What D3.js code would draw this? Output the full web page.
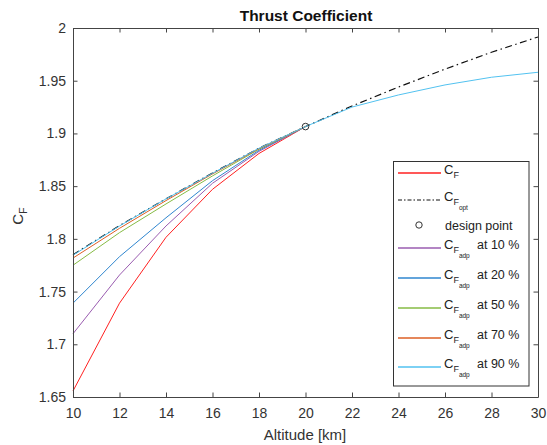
<!DOCTYPE html>
<html><head><meta charset="utf-8">
<script src="https://cdn.jsdelivr.net/npm/d3@7"></script>
<style>body{margin:0;background:#fff}svg{display:block}text{font-family:"Liberation Sans",Arial,sans-serif}</style>
</head><body><svg id="c" width="547" height="445"></svg>
<script>
const altitude = [10,12,14,16,18,20,22,24,26,28,30];
const cfFixed  = [1.6557,1.739,1.8015,1.847,1.881,1.9065];
const cfOpt    = [1.785,1.8125,1.838,1.8625,1.886,1.9065,1.926,1.944,1.961,1.977,1.9915];
const adp10    = [1.710,1.7657,1.8122,1.8527,1.883,1.9065];
const adp20    = [1.739,1.7831,1.820,1.8552,1.884,1.9065];
const adp50    = [1.775,1.8059,1.8331,1.8597,1.885,1.9065];
const adp70    = [1.7818,1.810,1.8363,1.8616,1.8855,1.9065];
const adp90    = [1.7845,1.8122,1.8379,1.8622,1.886,1.9065,1.925,1.9365,1.946,1.9533,1.958];
const designPoint = [20, 1.9065];
const xTicks = [10,12,14,16,18,20,22,24,26,28,30];
const yTicks = [1.65,1.7,1.75,1.8,1.85,1.9,1.95,2];
const yTickLabels = ["1.65","1.7","1.75","1.8","1.85","1.9","1.95","2"];
const adpLabels = ["at 10 %","at 20 %","at 50 %","at 70 %","at 90 %"];

const svg = d3.select("#c");
const L=73, R=538, T=28, B=397;
const x = d3.scaleLinear().domain([10,30]).range([L,R]);
const y = d3.scaleLinear().domain([1.65,2]).range([B,T]);
const axisColor = "#444";
const tickLen = 4.5;

svg.append("rect").attr("width",547).attr("height",445).attr("fill","#fff");

const line = d3.line().x((d,i)=>x(altitude[i])).y(d=>y(d));

const series = [
  {v:cfFixed, c:"#ff2020"},
  {v:cfOpt, c:"#111", dash:"7,3.5,1.5,3.5", w:1.2},
  {v:adp10, c:"#9a5cb0"},
  {v:adp20, c:"#2f86cf"},
  {v:adp50, c:"#86bb45"},
  {v:adp70, c:"#dd5f25"},
  {v:adp90, c:"#52c2f0"}
];
const g = svg.append("g");
series.forEach(s=>{
  g.append("path").attr("d",line(s.v)).attr("fill","none").attr("stroke",s.c)
   .attr("stroke-width",s.w||1).attr("stroke-dasharray",s.dash||null);
});
g.append("circle").attr("cx",x(designPoint[0])).attr("cy",y(designPoint[1])).attr("r",3.3)
 .attr("fill","none").attr("stroke","#333").attr("stroke-width",1);

// axes (box with inward ticks)
const xb = d3.axisBottom(x).tickValues(xTicks).tickSizeInner(-tickLen).tickSizeOuter(0).tickPadding(11).tickFormat(d3.format("d"));
const xt = d3.axisTop(x).tickValues(xTicks).tickSizeInner(-tickLen).tickSizeOuter(0).tickFormat("");
const yl = d3.axisLeft(y).tickValues(yTicks).tickSizeInner(-tickLen).tickSizeOuter(0).tickPadding(7).tickFormat((d,i)=>yTickLabels[i]);
const yr = d3.axisRight(y).tickValues(yTicks).tickSizeInner(-tickLen).tickSizeOuter(0).tickFormat("");
function style(sel){
  sel.selectAll("path").attr("stroke",axisColor).attr("stroke-width",1);
  sel.selectAll("line").attr("stroke",axisColor);
  sel.selectAll("text").attr("fill","#333").style("font-size","14px").style("font-family","'Liberation Sans',Arial,sans-serif");
}
svg.append("g").attr("transform",`translate(0,${B})`).call(xb).call(style);
svg.append("g").attr("transform",`translate(0,${T})`).call(xt).call(style);
svg.append("g").attr("transform",`translate(${L},0)`).call(yl).call(style);
svg.append("g").attr("transform",`translate(${R},0)`).call(yr).call(style);

// title and labels
svg.append("text").attr("x",306).attr("y",21).attr("text-anchor","middle")
  .style("font-size","15.5px").style("font-weight","bold").attr("fill","#111").text("Thrust Coefficient");
svg.append("text").attr("x",305).attr("y",440).attr("text-anchor","middle")
  .style("font-size","15px").attr("fill","#333").text("Altitude [km]");
const yLab = svg.append("text").attr("transform","translate(23,216) rotate(-90)").attr("text-anchor","middle")
  .style("font-size","15px").attr("fill","#333");
yLab.append("tspan").text("C");
yLab.append("tspan").attr("dy",4).style("font-size","10.5px").text("F");

// legend
const lg = svg.append("g");
lg.append("rect").attr("x",393.5).attr("y",161.5).attr("width",135.5).attr("height",224.5)
  .attr("fill","#fff").attr("stroke","#333").attr("stroke-width",1);
const entries = [
  {c:"#ff2020", y:173, sub:null},
  {c:"#111", y:200, sub:"opt", dash:"4,2,1.5,2"},
  {marker:true, y:225},
  {c:"#9a5cb0", y:248, sub:"adp", at:adpLabels[0]},
  {c:"#2f86cf", y:278, sub:"adp", at:adpLabels[1]},
  {c:"#86bb45", y:308, sub:"adp", at:adpLabels[2]},
  {c:"#dd5f25", y:338, sub:"adp", at:adpLabels[3]},
  {c:"#52c2f0", y:367, sub:"adp", at:adpLabels[4]}
];
entries.forEach(e=>{
  if(e.marker){
    lg.append("circle").attr("cx",419).attr("cy",e.y).attr("r",3.2).attr("fill","none").attr("stroke","#333");
    lg.append("text").attr("x",445).attr("y",e.y+4.5).style("font-size","12.5px").attr("fill","#222").text("design point");
    return;
  }
  lg.append("line").attr("x1",398).attr("x2",441).attr("y1",e.y).attr("y2",e.y)
    .attr("stroke",e.c).attr("stroke-width",e.dash?1.2:1.6).attr("stroke-dasharray",e.dash||null);
  const t = lg.append("text").attr("x",444).attr("y",e.y+1).style("font-size","13px").attr("fill","#222");
  t.append("tspan").text("C");
  t.append("tspan").attr("dy",4).style("font-size","9px").text("F");
  if(e.sub) t.append("tspan").attr("dy",5).style("font-size","6.5px").text(e.sub);
  if(e.at) lg.append("text").attr("x",477).attr("y",e.y+1).style("font-size","12.5px").attr("fill","#222").text(e.at);
});
</script></body></html>
